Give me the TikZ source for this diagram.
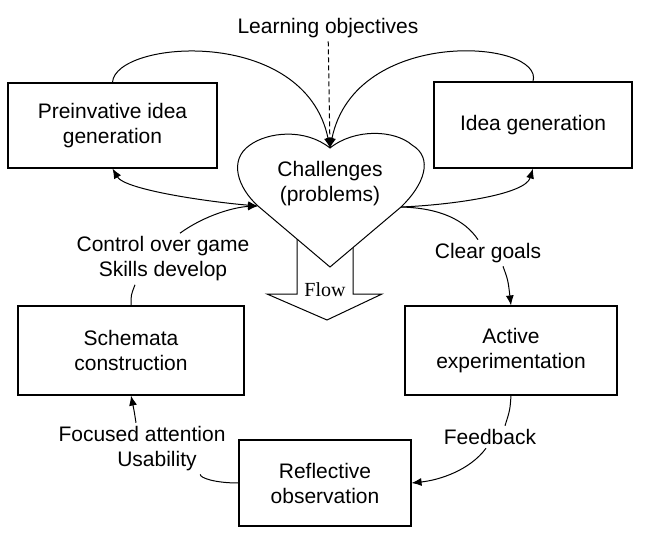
\documentclass[tikz,border=0pt]{standalone}
\usepackage{fontspec}
\setmainfont{Liberation Sans}
\newfontfamily\flowfont{Liberation Serif}
\usetikzlibrary{arrows.meta}

\begin{document}
\begin{tikzpicture}[x=1pt, y=-1pt,
  every node/.style={font=\fontsize{21}{25}\selectfont, align=center},
  box/.style={draw, line width=1.1pt, inner sep=0pt},
  ln/.style={line width=1pt},
  arr/.style={ln, -{Latex[length=10pt,width=8pt]}},
  darr/.style={ln, {Latex[length=10pt,width=8pt]}-{Latex[length=10pt,width=8pt]}}
]
\useasboundingbox (0,0) rectangle (657,552);

\node[box, minimum width=209pt, minimum height=85pt] (pre) at (112.5,125.5) {Preinvative idea\\generation};
\node[box, minimum width=198pt, minimum height=86pt] (idea) at (533,125) {Idea generation};
\node[box, minimum width=226pt, minimum height=89pt] (schema) at (131,350.5) {Schemata\\construction};
\node[box, minimum width=212pt, minimum height=89pt] (active) at (511,350.5) {Active\\experimentation};
\node[box, minimum width=172pt, minimum height=86pt] (reflect) at (325,483) {Reflective\\observation};

\node (lo) at (328,28) {Learning objectives};
\node (ctrl) at (163,259) {Control over game\\Skills develop};
\node (cg) at (488,253) {Clear goals};
\node (fb) at (490,437) {Feedback};
\node (foc) at (142,434) {Focused attention};
\node (usab) at (157,461) {Usability};

\draw[ln, fill=white] (297,235) -- (297,294) -- (267,294) -- (327,320) -- (382,294) -- (353,294) -- (353,235);
\node[font=\flowfont\fontsize{20}{24}\selectfont] (flow) at (325,290) {Flow};

\coordinate (cusp) at (330,148);
\coordinate (hl) at (258,206);
\coordinate (hr) at (401,207);
\coordinate (tip) at (330,267);
\draw[ln, fill=white] (tip) -- (hl) .. controls (238,188) and (228,160) .. (250,145)
  .. controls (268,132) and (305,128) .. (cusp)
  .. controls (355,128) and (395,130) .. (412,145)
  .. controls (434,158) and (424,185) .. (hr) -- cycle;
\node (chal) at (330,183.5) {Challenges\\(problems)};

\draw[arr] (pre.north) .. controls (115,40) and (305,25) .. (cusp);
\draw[arr] (idea.north) .. controls (545,40) and (355,25) .. (cusp);
\draw[arr, dash pattern=on 5pt off 3pt] (lo) -- (cusp);
\draw[darr] (pre.south) .. controls (125,190) and (210,202) .. (hl);
\draw[arr] (hr) .. controls (450,205) and (525,195) .. (idea.south);
\draw[arr] ([xshift=17pt]ctrl.north) .. controls (205,215) and (235,207) .. (hl);
\draw[ln] (schema.north) .. controls (131,295) .. ([xshift=-28pt]ctrl.south);
\draw[ln] (hr) .. controls (440,208) and (465,220) .. ([xshift=-10pt]cg.north);
\draw[arr] ([xshift=15pt]cg.south) .. controls (508,280) .. (active.north);
\draw[ln] (active.south) .. controls (510,410) .. ([xshift=15pt]fb.north);
\draw[arr] ([xshift=-4pt]fb.south) .. controls (470,470) and (440,480) .. (reflect.east);
\draw[ln] (reflect.west) .. controls (215,483) and (200,478) .. (usab.south east);
\draw[arr] ([xshift=-6pt]foc.north) .. controls (134,410) .. (schema.south);
\end{tikzpicture}
\end{document}
